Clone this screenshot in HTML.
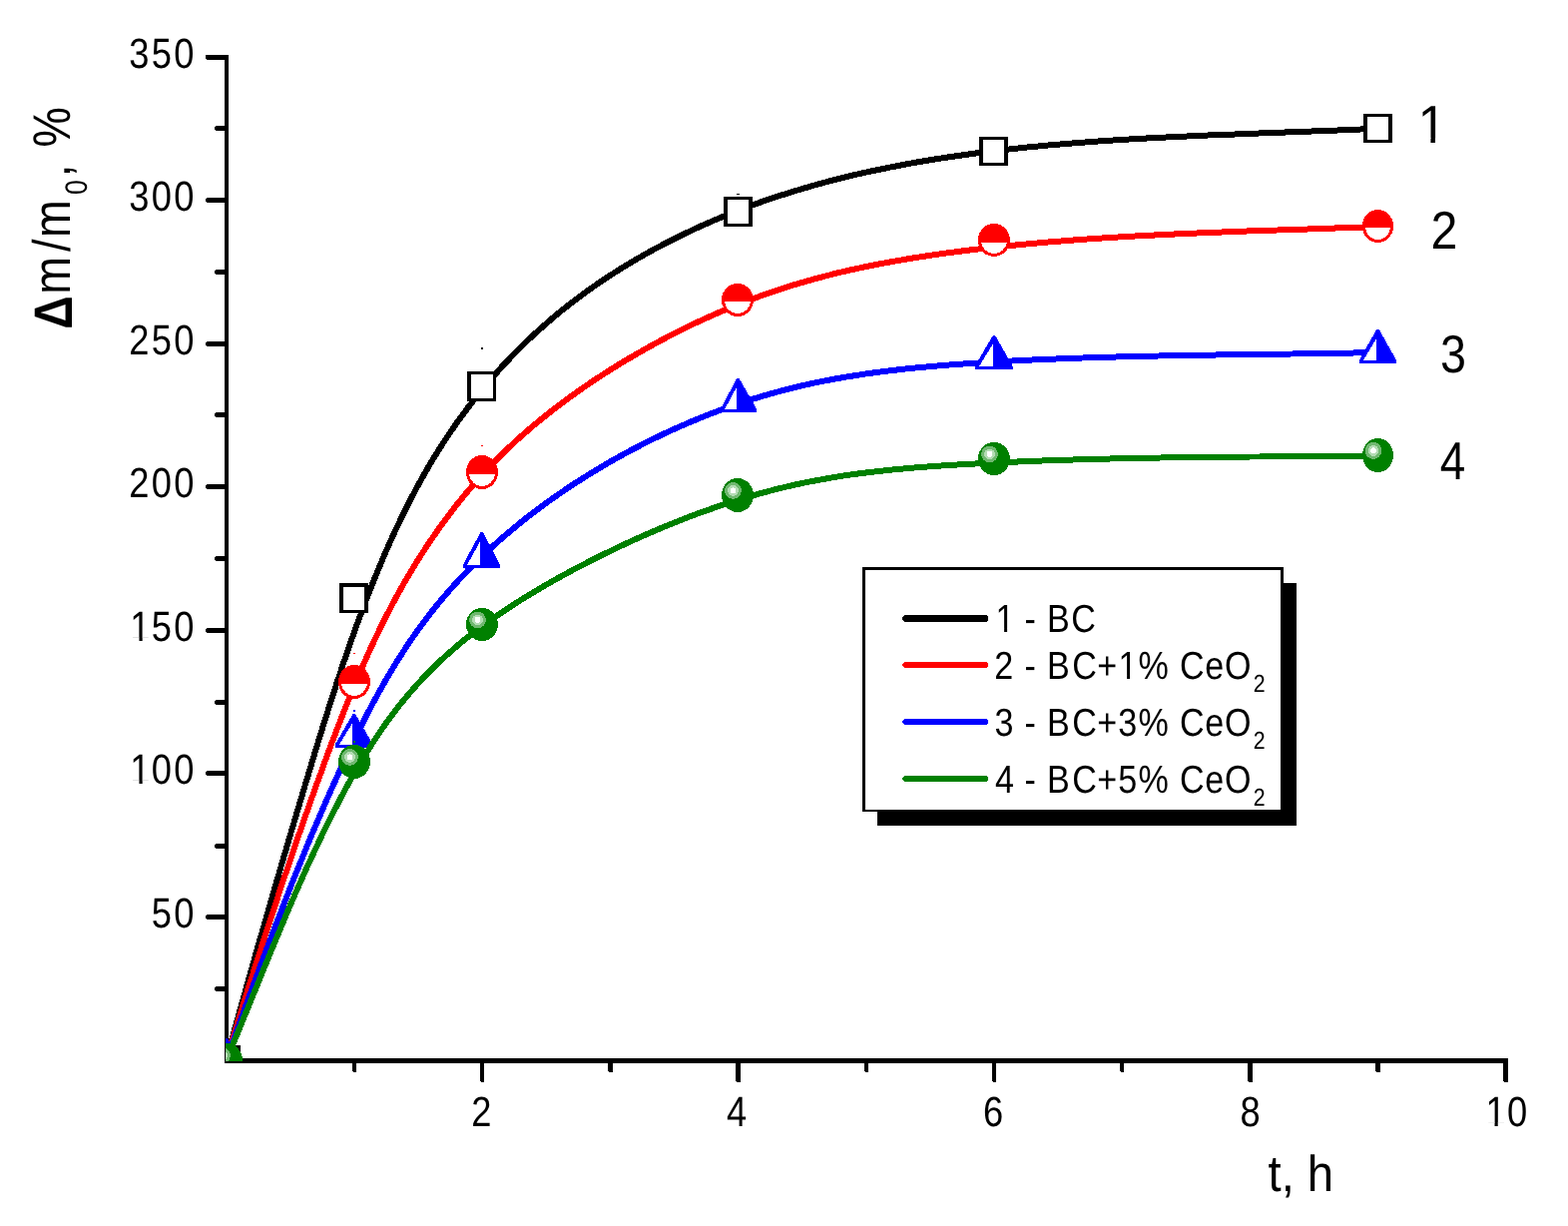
<!DOCTYPE html>
<html lang="en"><head><meta charset="utf-8"><title>Swelling kinetics</title>
<style>
html,body{margin:0;padding:0;background:#fff}
body{width:1571px;height:1228px;overflow:hidden}
svg{display:block}
text{font-family:"Liberation Sans", Arial, Helvetica, sans-serif;fill:#000;white-space:pre;text-rendering:geometricPrecision}
</style></head><body>
<svg width="1571" height="1228" viewBox="0 0 1571 1228">
<defs><clipPath id="plot"><rect x="226" y="0" width="1345" height="1063"/></clipPath>
<clipPath id="stem"><path clip-rule="evenodd" d="M0 0H1571V1228H0ZM131.59 781.53H139.46V786.80H131.59ZM142.67 781.53H150.23V786.80H142.67ZM131.59 638.53H139.46V643.80H131.59ZM142.67 638.53H150.23V643.80H142.67ZM1489.66 1124.23H1497.53V1129.50H1489.66ZM1500.73 1124.23H1508.30V1129.50H1500.73ZM1422.84 138.31H1433.43V144.40H1422.84ZM1438.00 138.31H1448.16V144.40H1438.00ZM998.60 629.47H1006.09V634.50H998.60ZM1009.10 629.47H1016.30V634.50H1009.10ZM1121.60 676.47H1129.09V681.50H1121.60ZM1132.10 676.47H1139.30V681.50H1132.10Z"/></clipPath></defs>
<rect width="1571" height="1228" fill="#fff"/>
<g shape-rendering="crispEdges">
<rect x="225" y="55" width="4" height="1010" fill="#000"/>
<path d="M225 1060H1510l1 1V1065H226l-1 -1Z" fill="#000"/>
<path d="M226 55H206V59l2 1H226Z" fill="#000"/>
<path d="M226 126H217l-2 1v3l2 1H226Z" fill="#000"/>
<path d="M226 198H208l-2 1v3l2 1H226Z" fill="#000"/>
<path d="M226 270H217l-2 1v3l2 1H226Z" fill="#000"/>
<path d="M226 342H208l-2 1v3l2 1H226Z" fill="#000"/>
<path d="M226 413H217l-2 1v3l2 1H226Z" fill="#000"/>
<path d="M226 485H208l-2 1v3l2 1H226Z" fill="#000"/>
<path d="M226 557H217l-2 1v3l2 1H226Z" fill="#000"/>
<path d="M226 629H208l-2 1v3l2 1H226Z" fill="#000"/>
<path d="M226 701H217l-2 1v3l2 1H226Z" fill="#000"/>
<path d="M226 772H208l-2 1v3l2 1H226Z" fill="#000"/>
<path d="M226 845H217l-2 1v3l2 1H226Z" fill="#000"/>
<path d="M226 916H208l-2 1v3l2 1H226Z" fill="#000"/>
<path d="M226 988H217l-2 1v3l2 1H226Z" fill="#000"/>
<path d="M353 1064V1073l1 1h2l1 -1V1064Z" fill="#000"/>
<path d="M481 1064V1083l1 1h2l1 -1V1064Z" fill="#000"/>
<path d="M609 1064V1073l1 1h3l1 -1V1064Z" fill="#000"/>
<path d="M737 1064V1083l1 1h3l1 -1V1064Z" fill="#000"/>
<path d="M866 1064V1073l1 1h2l1 -1V1064Z" fill="#000"/>
<path d="M994 1064V1083l1 1h2l1 -1V1064Z" fill="#000"/>
<path d="M1122 1064V1073l1 1h2l1 -1V1064Z" fill="#000"/>
<path d="M1250 1064V1083l1 1h3l1 -1V1064Z" fill="#000"/>
<path d="M1378 1064V1073l1 1h3l1 -1V1064Z" fill="#000"/>
<path d="M1506 1064V1083l1 1h3l1 -1V1064Z" fill="#000"/>
</g>
<g clip-path="url(#stem)">
<text transform="translate(0 929.3) scale(0.856 1)" x="177.37 203.66" font-size="42.4">50</text>
<text transform="translate(0 785.3) scale(0.856 1)" x="152.26 177.37 203.66" font-size="42.4">100</text>
<text transform="translate(0 642.3) scale(0.856 1)" x="152.26 177.37 203.66" font-size="42.4">150</text>
<text transform="translate(0 498.3) scale(0.856 1)" x="151.09 177.37 203.66" font-size="42.4">200</text>
<text transform="translate(0 355.3) scale(0.856 1)" x="151.09 177.37 203.66" font-size="42.4">250</text>
<text transform="translate(0 211.3) scale(0.856 1)" x="151.09 177.37 203.66" font-size="42.4">300</text>
<text transform="translate(0 68.3) scale(0.856 1)" x="151.09 177.37 203.66" font-size="42.4">350</text>
<text transform="translate(0 1128) scale(0.856 1)" x="551.64" font-size="42.4">2</text>
<text transform="translate(0 1128) scale(0.856 1)" x="850.61" font-size="42.4">4</text>
<text transform="translate(0 1128) scale(0.856 1)" x="1150.68" font-size="42.4">6</text>
<text transform="translate(0 1128) scale(0.856 1)" x="1451.53" font-size="42.4">8</text>
<text transform="translate(0 1128) scale(0.856 1)" x="1738.79 1763.90" font-size="42.4">10</text>
<text transform="translate(0 1192.85) scale(0.93 1)" x="1366.00 1380.27 1394.41 1408.30" font-size="50.9">t, h</text>
<text transform="translate(0 142.9) scale(0.97 1)" x="1464.33" font-size="53.4">1</text>
<text transform="translate(0 248.9) scale(0.904336 1)" x="1585.22" font-size="53.4">2</text>
<text transform="translate(0 373) scale(0.872894 1)" x="1653.26" font-size="53.4">3</text>
<text transform="translate(0 480.1) scale(0.858462 1)" x="1680.74" font-size="53.4">4</text>
<text transform="translate(70 328) rotate(-90) scale(0.857 1)" font-size="52.9"><tspan x="-2.08" dy="2" font-weight="bold" font-size="54.2">Δ</tspan><tspan x="38.73 88.68 105.12" dy="-2">m/m</tspan><tspan x="155.26" dy="17" font-size="31.1">0</tspan><tspan x="175.88 190.58 210.60" dy="-17">, %</tspan></text>
</g>
<g shape-rendering="crispEdges" clip-path="url(#plot)">
<path d="M226.6 1062.0 229.4 1051.7 232.3 1041.5 235.1 1031.2 238.0 1020.9 240.8 1010.7 243.7 1000.5 246.6 990.2 249.4 980.0 252.3 969.8 255.2 959.5 258.1 949.3 261.0 939.1 264.0 928.9 266.9 918.7 269.8 908.5 272.8 898.3 275.7 888.1 278.7 877.9 281.6 867.7 284.6 857.6 287.6 847.4 290.6 837.2 293.6 827.0 296.6 816.9 299.7 806.7 302.7 796.5 305.7 786.3 308.8 776.2 311.9 766.0 314.9 755.8 318.0 745.7 321.2 735.5 324.3 725.4 327.5 715.2 330.7 705.1 333.9 695.0 337.2 684.9 340.6 674.8 343.9 664.7 347.4 654.6 350.9 644.6 354.4 634.5 358.0 624.5 361.7 614.6 365.5 604.6 369.3 594.7 373.2 584.8 377.2 574.9 381.3 565.1 385.4 555.3 389.7 545.5 394.1 535.8 398.6 526.2 403.2 516.6 407.9 507.0 412.8 497.6 417.7 488.2 422.9 478.9 428.1 469.7 433.5 460.5 439.1 451.5 444.8 442.6 450.7 433.7 456.7 425.0 462.9 416.4 469.2 407.9 475.7 399.5 482.3 391.2 489.1 383.1 496.0 375.1 503.0 367.2 510.3 359.5 517.6 351.9 525.1 344.4 532.8 337.1 540.6 330.0 548.5 323.0 556.6 316.1 564.8 309.4 573.2 302.9 581.7 296.5 590.2 290.2 599.0 284.1 607.8 278.2 616.7 272.4 625.7 266.8 634.9 261.3 644.1 255.9 653.4 250.7 662.8 245.7 672.3 240.8 681.9 236.0 691.5 231.4 701.2 226.9 711.0 222.6 720.8 218.4 730.6 214.3 740.6 210.4 750.5 206.7 760.6 203.0 770.6 199.5 780.7 196.2 790.8 193.0 801.0 189.9 811.2 186.9 821.4 184.0 831.6 181.3 841.9 178.7 852.2 176.1 862.6 173.7 872.9 171.4 883.3 169.3 893.7 167.2 904.1 165.2 914.6 163.2 925.0 161.4 935.5 159.7 946.0 158.0 956.5 156.5 967.0 155.0 977.5 153.5 988.1 152.2 998.6 150.9 1009.2 149.7 1019.7 148.5 1030.3 147.4 1040.9 146.4 1051.4 145.4 1062.0 144.5 1072.6 143.6 1083.2 142.8 1093.8 142.0 1104.4 141.2 1115.0 140.5 1125.6 139.8 1136.2 139.2 1146.9 138.6 1157.5 138.0 1168.1 137.5 1178.7 137.0 1189.4 136.5 1200.0 136.0 1210.6 135.5 1221.3 135.1 1231.9 134.7 1242.5 134.3 1253.1 133.8 1263.8 133.4 1274.4 133.0 1285.0 132.6 1295.6 132.2 1306.3 131.8 1316.9 131.4 1327.5 131.0 1338.1 130.6 1348.7 130.1 1359.3 129.7 1369.9 129.2 1380.5 128.7" fill="none" stroke="#000" stroke-width="6" stroke-linejoin="round" stroke-linecap="round"/>
<rect x="482" y="348" width="2" height="2" fill="#000"/>
<rect x="738" y="194" width="3" height="1" fill="#000"/>
<rect x="212" y="1047" width="29" height="29" fill="#000"/><rect x="216" y="1050" width="21" height="23" fill="#fff"/>
<rect x="340" y="584" width="29" height="30" fill="#000"/><rect x="344" y="588" width="21" height="23" fill="#fff"/>
<rect x="468" y="372" width="29" height="30" fill="#000"/><rect x="472" y="375" width="22" height="24" fill="#fff"/>
<rect x="725" y="197" width="29" height="30" fill="#000"/><rect x="729" y="200" width="21" height="24" fill="#fff"/>
<rect x="981" y="137" width="29" height="29" fill="#000"/><rect x="985" y="140" width="21" height="23" fill="#fff"/>
<rect x="1366" y="114" width="29" height="29" fill="#000"/><rect x="1370" y="117" width="21" height="23" fill="#fff"/>
<path d="M226.6 1062.0 229.5 1052.3 232.5 1042.6 235.5 1033.0 238.4 1023.3 241.4 1013.7 244.4 1004.0 247.4 994.4 250.5 984.7 253.5 975.1 256.6 965.5 259.6 955.9 262.7 946.3 265.8 936.7 268.9 927.1 272.0 917.6 275.2 908.0 278.4 898.4 281.5 888.9 284.7 879.3 288.0 869.8 291.2 860.3 294.4 850.7 297.7 841.2 301.0 831.7 304.3 822.1 307.7 812.6 311.0 803.1 314.4 793.6 317.8 784.1 321.3 774.6 324.7 765.1 328.2 755.6 331.7 746.1 335.3 736.7 338.9 727.2 342.6 717.8 346.3 708.4 350.0 699.0 353.9 689.6 357.8 680.3 361.7 671.0 365.8 661.8 369.9 652.6 374.2 643.4 378.5 634.3 382.9 625.2 387.5 616.2 392.1 607.3 396.9 598.4 401.7 589.6 406.7 580.8 411.9 572.2 417.1 563.6 422.5 555.0 428.0 546.6 433.7 538.2 439.4 530.0 445.3 521.8 451.4 513.8 457.5 505.8 463.8 498.0 470.3 490.3 476.8 482.7 483.5 475.2 490.4 467.8 497.4 460.6 504.5 453.5 511.8 446.5 519.1 439.7 526.7 433.0 534.3 426.4 542.1 420.0 550.0 413.7 557.9 407.5 566.0 401.4 574.2 395.5 582.4 389.7 590.8 383.9 599.2 378.3 607.7 372.8 616.3 367.4 624.9 362.1 633.6 357.0 642.4 351.9 651.2 346.9 660.1 342.1 669.0 337.3 678.0 332.7 687.1 328.2 696.2 323.8 705.3 319.6 714.6 315.5 723.8 311.4 733.1 307.6 742.5 303.8 751.9 300.2 761.4 296.7 770.8 293.3 780.4 290.1 790.0 287.0 799.6 284.1 809.3 281.3 819.0 278.6 828.7 276.1 838.4 273.6 848.2 271.3 858.1 269.1 867.9 267.0 877.8 265.0 887.7 263.2 897.6 261.4 907.6 259.7 917.5 258.0 927.5 256.5 937.5 255.0 947.5 253.6 957.5 252.3 967.5 251.0 977.6 249.8 987.6 248.7 997.6 247.6 1007.7 246.5 1017.7 245.5 1027.8 244.5 1037.8 243.6 1047.9 242.7 1057.9 241.9 1068.0 241.1 1078.1 240.3 1088.1 239.6 1098.2 238.9 1108.3 238.2 1118.4 237.6 1128.4 237.0 1138.5 236.4 1148.6 235.9 1158.7 235.4 1168.7 234.9 1178.8 234.4 1188.9 233.9 1199.0 233.5 1209.1 233.1 1219.2 232.7 1229.3 232.3 1239.3 231.9 1249.4 231.5 1259.5 231.2 1269.6 230.8 1279.7 230.5 1289.8 230.1 1299.9 229.8 1310.0 229.5 1320.0 229.1 1330.1 228.8 1340.2 228.4 1350.3 228.1 1360.4 227.7 1370.4 227.4 1380.5 227.0" fill="none" stroke="#f00" stroke-width="6" stroke-linejoin="round" stroke-linecap="round"/>
<rect x="482" y="446" width="2" height="1" fill="#f00"/>
<rect x="354" y="654" width="2" height="1" fill="#f00"/>
<ellipse cx="226.5" cy="1061.5" rx="15.5" ry="16.5" fill="#f00"/><path d="M214.08 1063A12.5 13.5 0 0 0 238.92 1063Z" fill="#fff"/>
<ellipse cx="355" cy="683" rx="16" ry="17" fill="#f00"/><path d="M342.10 684.7A13 14 0 0 0 367.90 684.7Z" fill="#fff"/>
<ellipse cx="483" cy="473" rx="16" ry="17" fill="#f00"/><path d="M470.09 474.6A13 14 0 0 0 495.91 474.6Z" fill="#fff"/>
<ellipse cx="739" cy="300.5" rx="16" ry="16.5" fill="#f00"/><path d="M726.06 301.8A13 13.5 0 0 0 751.94 301.8Z" fill="#fff"/>
<ellipse cx="996" cy="240.5" rx="16" ry="16.5" fill="#f00"/><path d="M983.16 242.6A13 13.5 0 0 0 1008.84 242.6Z" fill="#fff"/>
<ellipse cx="1380.5" cy="226.5" rx="15.5" ry="16.5" fill="#f00"/><path d="M1368.06 227.8A12.5 13.5 0 0 0 1392.94 227.8Z" fill="#fff"/>
<path d="M226.6 1062.0 229.8 1053.0 233.1 1044.0 236.3 1035.0 239.6 1026.0 242.8 1017.0 246.1 1008.1 249.3 999.1 252.6 990.1 255.9 981.2 259.2 972.2 262.5 963.3 265.8 954.4 269.2 945.5 272.5 936.5 275.9 927.6 279.3 918.7 282.8 909.9 286.2 901.0 289.7 892.1 293.2 883.2 296.7 874.4 300.3 865.6 303.9 856.7 307.5 847.9 311.1 839.1 314.8 830.3 318.6 821.5 322.3 812.7 326.1 804.0 330.0 795.2 333.9 786.5 337.8 777.8 341.8 769.0 345.8 760.3 349.9 751.7 354.1 743.0 358.3 734.4 362.6 725.8 366.9 717.2 371.3 708.8 375.9 700.3 380.5 691.9 385.2 683.6 390.0 675.3 394.9 667.2 399.9 659.1 405.1 651.1 410.3 643.1 415.7 635.3 421.3 627.6 426.9 620.0 432.7 612.5 438.7 605.1 444.8 597.8 451.0 590.6 457.3 583.6 463.8 576.6 470.4 569.8 477.1 563.1 483.9 556.4 490.9 549.9 497.9 543.5 505.1 537.2 512.3 531.1 519.7 525.0 527.1 519.0 534.7 513.2 542.3 507.5 550.1 501.8 557.9 496.3 565.8 490.9 573.7 485.6 581.8 480.4 589.9 475.3 598.1 470.3 606.3 465.4 614.6 460.6 623.0 456.0 631.4 451.4 639.9 447.0 648.4 442.6 657.0 438.4 665.6 434.3 674.3 430.3 683.1 426.4 691.8 422.6 700.7 419.0 709.5 415.4 718.4 412.0 727.4 408.7 736.4 405.6 745.4 402.5 754.5 399.6 763.6 396.9 772.7 394.2 781.9 391.7 791.1 389.3 800.3 387.1 809.6 384.9 818.9 382.9 828.2 381.1 837.6 379.3 847.0 377.7 856.4 376.2 865.8 374.7 875.2 373.4 884.7 372.1 894.1 371.0 903.6 369.9 913.1 368.9 922.6 368.0 932.1 367.1 941.7 366.3 951.2 365.5 960.7 364.8 970.3 364.1 979.8 363.5 989.3 362.9 998.9 362.3 1008.4 361.8 1018.0 361.3 1027.5 360.8 1037.0 360.4 1046.6 359.9 1056.1 359.6 1065.6 359.2 1075.2 358.8 1084.7 358.5 1094.3 358.2 1103.8 357.9 1113.3 357.6 1122.9 357.4 1132.4 357.1 1142.0 356.9 1151.5 356.7 1161.0 356.5 1170.6 356.3 1180.1 356.2 1189.7 356.0 1199.2 355.8 1208.8 355.7 1218.3 355.5 1227.8 355.4 1237.4 355.3 1246.9 355.1 1256.5 355.0 1266.0 354.9 1275.5 354.8 1285.1 354.6 1294.6 354.5 1304.2 354.4 1313.7 354.2 1323.2 354.1 1332.8 353.9 1342.3 353.8 1351.9 353.6 1361.4 353.4 1371.0 353.2 1380.5 353.0" fill="none" stroke="#00f" stroke-width="6" stroke-linejoin="round" stroke-linecap="round"/>
<rect x="354" y="711" width="2" height="2" fill="#00f"/>
<path d="M225.3 1040H227.7L245 1070.5V1074H208V1070.5Z" fill="#00f"/><path d="M225 1049V1071H212Z" fill="#fff"/>
<path d="M353.6 715H356L373.5 745.3V748.8H336V745.3Z" fill="#00f"/><path d="M353.3 724V745.8H340Z" fill="#fff"/>
<path d="M481.6 533H484L501 565.5V569H464V565.5Z" fill="#00f"/><path d="M481.3 542V566H468Z" fill="#fff"/>
<path d="M738.2 379H740.6L758 409.5V413H722V409.5Z" fill="#00f"/><path d="M737.9 388V410H726Z" fill="#fff"/>
<path d="M994.8 336H997.2L1014.5 366.5V370H977V366.5Z" fill="#00f"/><path d="M994.5 345V367H981Z" fill="#fff"/>
<path d="M1379.3 330H1381.7L1399 360.5V364H1362V360.5Z" fill="#00f"/><path d="M1379 339V361H1366Z" fill="#fff"/>
<path d="M226.6 1062.0 230.1 1053.6 233.6 1045.3 237.1 1036.9 240.6 1028.5 244.0 1020.1 247.5 1011.7 250.9 1003.3 254.3 994.9 257.8 986.5 261.2 978.1 264.6 969.7 268.1 961.2 271.5 952.8 275.0 944.4 278.5 936.0 282.0 927.7 285.5 919.3 289.0 910.9 292.6 902.6 296.2 894.2 299.9 885.9 303.6 877.6 307.3 869.3 311.1 861.1 314.9 852.9 318.8 844.6 322.7 836.4 326.7 828.3 330.7 820.2 334.8 812.1 339.0 804.0 343.2 795.9 347.5 787.9 351.9 780.0 356.4 772.1 361.0 764.2 365.7 756.5 370.5 748.8 375.4 741.1 380.4 733.6 385.6 726.1 390.9 718.8 396.3 711.6 401.9 704.4 407.7 697.4 413.6 690.6 419.6 683.8 425.8 677.2 432.1 670.8 438.6 664.4 445.2 658.2 452.0 652.2 458.8 646.3 465.8 640.5 472.9 634.9 480.1 629.4 487.5 624.0 494.9 618.8 502.3 613.7 509.9 608.7 517.5 603.7 525.2 598.9 532.9 594.2 540.7 589.6 548.5 585.0 556.4 580.5 564.4 576.1 572.3 571.8 580.4 567.6 588.4 563.4 596.5 559.3 604.7 555.2 612.9 551.3 621.1 547.3 629.3 543.5 637.6 539.7 645.9 536.0 654.3 532.4 662.6 528.8 671.1 525.3 679.5 522.0 688.0 518.6 696.5 515.4 705.0 512.3 713.6 509.3 722.2 506.3 730.8 503.5 739.4 500.8 748.1 498.1 756.8 495.6 765.6 493.2 774.3 490.9 783.1 488.7 791.9 486.6 800.8 484.6 809.6 482.8 818.5 481.1 827.4 479.5 836.4 477.9 845.3 476.5 854.3 475.2 863.3 474.0 872.3 472.9 881.3 471.9 890.3 470.9 899.4 470.0 908.4 469.2 917.5 468.4 926.6 467.7 935.6 467.0 944.7 466.4 953.8 465.8 962.9 465.3 972.0 464.8 981.1 464.3 990.1 463.8 999.2 463.4 1008.3 463.0 1017.4 462.6 1026.5 462.2 1035.6 461.9 1044.6 461.5 1053.7 461.2 1062.8 460.9 1071.9 460.6 1080.9 460.3 1090.0 460.1 1099.1 459.8 1108.2 459.6 1117.2 459.4 1126.3 459.2 1135.4 459.0 1144.4 458.8 1153.5 458.7 1162.6 458.5 1171.6 458.4 1180.7 458.2 1189.8 458.1 1198.9 458.0 1207.9 457.9 1217.0 457.8 1226.1 457.7 1235.2 457.6 1244.2 457.6 1253.3 457.5 1262.4 457.5 1271.5 457.4 1280.5 457.4 1289.6 457.3 1298.7 457.3 1307.8 457.2 1316.9 457.2 1325.9 457.2 1335.0 457.1 1344.1 457.1 1353.2 457.1 1362.3 457.1 1371.4 457.0 1380.5 457.0" fill="none" stroke="#008000" stroke-width="6" stroke-linejoin="round" stroke-linecap="round"/>
<rect x="354" y="742" width="2" height="2" fill="#008000"/>
<ellipse cx="227" cy="1062" rx="16" ry="17" fill="#008000"/><circle cx="222.5" cy="1057.4" r="8.4" fill="#70b870"/><circle cx="222.5" cy="1057.4" r="5.4" fill="#b4dcb4"/><circle cx="222.5" cy="1057.4" r="3" fill="#fcfffc"/>
<ellipse cx="355" cy="763" rx="16" ry="17" fill="#008000"/><circle cx="350.5" cy="758.4" r="8.4" fill="#70b870"/><circle cx="350.5" cy="758.4" r="5.4" fill="#b4dcb4"/><circle cx="350.5" cy="758.4" r="3" fill="#fcfffc"/>
<ellipse cx="483" cy="625.5" rx="16" ry="16.5" fill="#008000"/><circle cx="478.5" cy="620.9" r="8.4" fill="#70b870"/><circle cx="478.5" cy="620.9" r="5.4" fill="#b4dcb4"/><circle cx="478.5" cy="620.9" r="3" fill="#fcfffc"/>
<ellipse cx="739" cy="496" rx="16" ry="17" fill="#008000"/><circle cx="734.5" cy="491.4" r="8.4" fill="#70b870"/><circle cx="734.5" cy="491.4" r="5.4" fill="#b4dcb4"/><circle cx="734.5" cy="491.4" r="3" fill="#fcfffc"/>
<ellipse cx="996" cy="459.5" rx="16" ry="16.5" fill="#008000"/><circle cx="991.5" cy="454.9" r="8.4" fill="#70b870"/><circle cx="991.5" cy="454.9" r="5.4" fill="#b4dcb4"/><circle cx="991.5" cy="454.9" r="3" fill="#fcfffc"/>
<ellipse cx="1380.5" cy="456" rx="15.5" ry="17" fill="#008000"/><circle cx="1376" cy="451.4" r="8.4" fill="#70b870"/><circle cx="1376" cy="451.4" r="5.4" fill="#b4dcb4"/><circle cx="1376" cy="451.4" r="3" fill="#fcfffc"/>
</g>
<g shape-rendering="crispEdges">
<rect x="879" y="584" width="420" height="243" fill="#000"/>
<rect x="864" y="568" width="422" height="245" fill="#000"/>
<rect x="867" y="571" width="416" height="240" fill="#fff"/>
<path d="M906 616H988l2 2v3l-2 2H906l-2 -2v-3Z" fill="#000"/>
<path d="M906 663H988l2 2v2l-2 2H906l-2 -2v-2Z" fill="#f00"/>
<path d="M906 720H988l2 2v2l-2 2H906l-2 -2v-2Z" fill="#00f"/>
<path d="M906 777H988l2 2v2l-2 2H906l-2 -2v-2Z" fill="#008000"/>
</g>
<g clip-path="url(#stem)">
<text transform="translate(0 633) scale(0.87 1)" x="1146.56 1166.97 1179.75 1192.81 1205.86 1233.64" font-size="39.2">1 - BC</text>
<text transform="translate(0 680) scale(0.87 1)" x="1145.04 1166.84 1179.75 1192.81 1205.86 1234.79 1263.60 1287.94 1311.02 1345.87 1358.70 1387.65 1410.33" font-size="39.2">2 - BC+1% CeO<tspan x="1443.48" dy="13.1" font-size="24.6">2</tspan></text>
<text transform="translate(0 737) scale(0.87 1)" x="1145.52 1167.32 1179.75 1192.81 1205.86 1234.79 1263.60 1287.53 1311.02 1345.87 1358.70 1387.65 1410.33" font-size="39.2">3 - BC+3% CeO<tspan x="1443.48" dy="13.1" font-size="24.6">2</tspan></text>
<text transform="translate(0 794) scale(0.87 1)" x="1146.11 1167.91 1179.75 1192.81 1205.86 1234.79 1263.60 1287.53 1311.02 1345.87 1358.70 1387.65 1410.33" font-size="39.2">4 - BC+5% CeO<tspan x="1443.48" dy="13.1" font-size="24.6">2</tspan></text>
</g>
</svg>
</body></html>
